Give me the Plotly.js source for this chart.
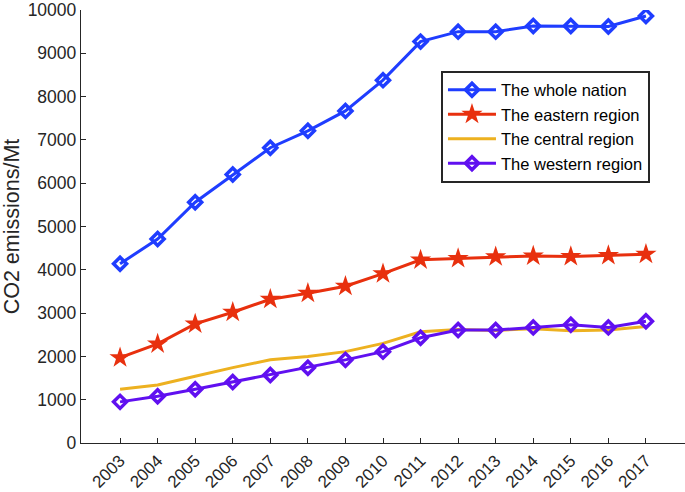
<!DOCTYPE html>
<html><head><meta charset="utf-8">
<script src="https://cdn.plot.ly/plotly-3.0.1.min.js"></script>
<style>html,body{margin:0;padding:0;background:#fff}#c{width:685px;height:492px}</style>
</head><body><div id="c"></div>
<script>
const years = [2003,2004,2005,2006,2007,2008,2009,2010,2011,2012,2013,2014,2015,2016,2017];
const whole = [4140,4710,5560,6200,6820,7210,7670,8380,9270,9500,9500,9630,9630,9620,9860];
const eastern = [1970,2290,2750,3020,3320,3460,3620,3910,4230,4260,4300,4320,4310,4330,4360];
const central = [1240,1340,1540,1740,1920,2000,2110,2300,2570,2620,2600,2640,2590,2610,2690];
const western = [950,1080,1240,1410,1570,1740,1920,2110,2430,2610,2610,2670,2730,2670,2810];
const names = ['The whole nation','The eastern region','The central region','The western region'];
const yticks = [0,1000,2000,3000,4000,5000,6000,7000,8000,9000,10000];

const traces = [
  {x: years, y: whole, name: names[0], mode: 'lines+markers',
   line: {color: '#1f3dff', width: 3},
   marker: {symbol: 'diamond-open', size: 10, color: '#1f3dff', line: {width: 3.5}}},
  {x: years, y: eastern, name: names[1], mode: 'lines+markers',
   line: {color: '#e8300e', width: 3},
   marker: {symbol: 'star', size: 16, color: '#e8300e'}},
  {x: years, y: central, name: names[2], mode: 'lines',
   line: {color: '#edb120', width: 3}},
  {x: years, y: western, name: names[3], mode: 'lines+markers',
   line: {color: '#6010f0', width: 3},
   marker: {symbol: 'diamond-open', size: 10, color: '#6010f0', line: {width: 3.5}}}
];

const layout = {
  width: 685, height: 492,
  margin: {l: 81, r: 0, t: 10, b: 49},
  paper_bgcolor: '#fff', plot_bgcolor: '#fff',
  font: {family: 'Liberation Sans, Arial, sans-serif', size: 17, color: '#262626'},
  showlegend: true,
  legend: {x: 0.596, y: 0.86, xanchor: 'left', yanchor: 'top',
    bordercolor: '#262626', borderwidth: 2, bgcolor: '#fff',
    font: {size: 16.5, color: '#000'}, tracegroupgap: 0, itemwidth: 48},
  xaxis: {range: [2001.96, 2018.04], tickvals: years, ticktext: years.map(String),
    tickangle: -45, ticks: 'inside', ticklen: 5, tickcolor: '#262626',
    showline: true, linecolor: '#262626', linewidth: 1.2, showgrid: false, zeroline: false,
    tickfont: {size: 17, color: '#262626'}},
  yaxis: {range: [0, 10000], tickvals: yticks, ticktext: yticks.map(String),
    ticklabeloverflow: 'allow',
    ticks: 'inside', ticklen: 5, tickcolor: '#262626',
    showline: true, linecolor: '#262626', linewidth: 1.2, showgrid: false, zeroline: false,
    tickfont: {size: 17.5, color: '#262626'},
    title: {text: 'CO2 emissions/Mt', font: {size: 21.5, color: '#262626'}, standoff: 2}}
};
Plotly.newPlot('c', traces, layout, {displayModeBar: false, staticPlot: true});
</script></body></html>
